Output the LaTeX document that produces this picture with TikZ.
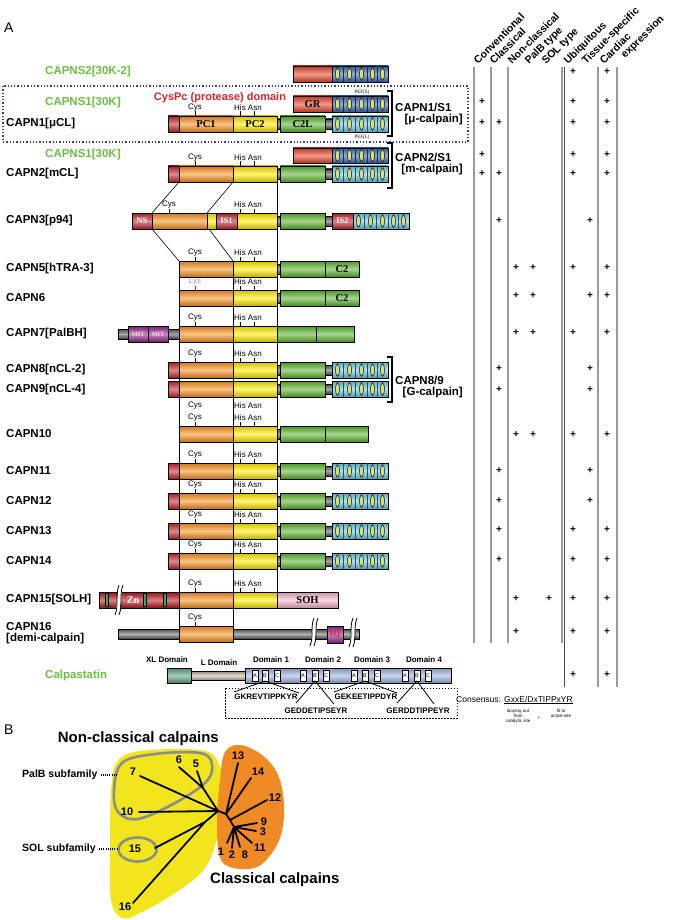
\documentclass[tikz,border=0pt]{standalone}
\usepackage{fontspec}
\setmainfont{Liberation Sans}
\newfontfamily\serifb{Liberation Serif}
\usetikzlibrary{calc}
\definecolor{cred}{HTML}{C1272D}
\definecolor{corange}{HTML}{F7931E}
\definecolor{cyellow}{HTML}{FFEC00}
\definecolor{cgreen}{HTML}{5DB52F}
\definecolor{ccyan}{HTML}{6CCDE8}
\definecolor{cblue}{HTML}{3A6DB5}
\definecolor{cgr}{HTML}{E8452C}
\definecolor{cpurple}{HTML}{93278F}
\definecolor{cpink}{HTML}{F7B5D0}
\definecolor{cdred}{HTML}{B3151B}
\definecolor{cgray}{HTML}{4D4D4D}
\definecolor{cteal}{HTML}{5FA585}
\definecolor{ctan}{HTML}{B8A68E}
\definecolor{cpale}{HTML}{9FB3E0}
\definecolor{lblgreen}{HTML}{6DBE45}
\definecolor{lblred}{HTML}{D7262B}
\definecolor{oval}{HTML}{D6E27A}
\definecolor{tyellow}{HTML}{F2E51E}
\definecolor{torange}{HTML}{EF8A25}
\definecolor{tgray}{HTML}{8C8C8C}
\definecolor{colgray}{HTML}{9A9A9A}
\definecolor{dotblue}{HTML}{2E3C9E}
\newcommand{\dbox}[5]{\draw[line width=0.7pt, top color=#5!82!black, bottom color=#5!75!black, middle color=#5!55!white] (#1,#3) rectangle (#2,#4);}
\newcommand{\lnk}[3]{\draw[line width=0.5pt, top color=cgray, bottom color=cgray!80!black, middle color=gray!70] (#1,#3-5) rectangle (#2,#3+5);}
\newcommand{\pefb}[4]{%
  \dbox{#1}{#1+56}{#2}{#3}{#4}
  \foreach \dd in {11,23.5,35,45.5}{\draw[line width=0.35pt, #4!40!black] (#1+\dd,#2) -- (#1+\dd,#3);}
  \foreach \oo in {5.5,17.5,29.5,40.5,50.5}{\draw[line width=0.5pt,fill=oval] (#1+\oo,{(#2+#3)/2}) ellipse (1.9 and 6.2);}
}
\newcommand{\classrow}[1]{%
  \dbox{168}{179}{#1}{#1+16}{cred}
  \dbox{179}{233}{#1}{#1+16}{corange}
  \dbox{233}{277}{#1}{#1+16}{cyellow}
  \lnk{277}{280}{#1+8}
  \dbox{280}{325}{#1}{#1+16}{cgreen}
  \lnk{325}{332}{#1+8}
  \pefb{332}{#1}{#1+16}{ccyan}
}
\newcommand{\cysl}[2]{\node[site] at (#1,#2-8.5) {Cys}; \draw[line width=0.5pt] (#1,#2-4.5) -- (#1,#2);}
\newcommand{\hisl}[1]{\node[site] at (248,#1-8.5) {His Asn}; \draw[line width=0.5pt] (240,#1-4.5) -- (240,#1) (254,#1-4.5) -- (254,#1);}
\newcommand{\brkmark}[3]{%
  \fill[white] (#1-3,#3) -- (#1+1,#2) -- (#1+5,#2) -- (#1+1,#3) -- cycle;
  \draw[line width=0.8pt] (#1-3,#3) .. controls (#1+1,#3-10) and (#1-3,#2+10) .. (#1+1,#2);
  \draw[line width=0.8pt] (#1+1,#3) .. controls (#1+5,#3-10) and (#1+1,#2+10) .. (#1+5,#2);
}
\begin{document}
\begin{tikzpicture}[x=1pt,y=-1pt,
 lbl/.style={font=\fontsize{11.5}{12}\selectfont\bfseries, inner sep=0, anchor=west},
 glbl/.style={lbl, text=lblgreen},
 dtxt/.style={font=\serifb\bfseries\fontsize{10.5}{10.5}\selectfont, inner sep=0},
 dsm/.style={font=\serifb\bfseries\fontsize{8.5}{8.5}\selectfont, inner sep=0, text=white},
 site/.style={font=\fontsize{8}{8}\selectfont, inner sep=0},
 pl/.style={font=\fontsize{10}{10}\selectfont\bfseries, inner sep=0},
 hdr/.style={font=\fontsize{10.5}{10.5}\selectfont\bfseries, rotate=45, anchor=base west, inner sep=0},
 brk/.style={line width=1.6pt},
 guide/.style={line width=0.6pt},
 tree/.style={line width=1.8pt, line cap=round},
 num/.style={font=\fontsize{11}{11}\selectfont\bfseries, inner sep=0},
 colline/.style={colgray, line width=1.8pt},
 dom/.style={font=\fontsize{8}{8}\selectfont\bfseries, inner sep=0},
 seq/.style={font=\fontsize{8}{8}\selectfont\bfseries, inner sep=0},
 tiny/.style={font=\fontsize{4.5}{5}\selectfont, inner sep=0}]
\useasboundingbox (0,0) rectangle (676,920);
\fill[white] (0,0) rectangle (676,920);

\node[font=\fontsize{14}{14}\selectfont, anchor=west, inner sep=0] (A) at (4,28) {A};
\node[font=\fontsize{14}{14}\selectfont, anchor=west, inner sep=0] (B) at (4,730) {B};

% table lines
\foreach \xx in {474,491,508,562} \draw[colline] (\xx,67) -- (\xx,643);
\foreach \xx in {598,617} \draw[colline] (\xx,67) -- (\xx,687);
\draw[line width=0.8pt, black!70] (564.5,67) -- (564.5,687);
\foreach \xx/\htxt in {478/Conventional,494/Classical,512/Non-classical,529/PalB type,546/SOL type,568/Ubiquitous,586/Tissue-specific,604/Cardiac}
  \node[hdr] at (\xx,65) {\htxt};
\node[hdr] at (625,59) {expression};
\foreach \xx/\yy in {573/72,607/72, 482/102,573/102,607/102, 482/123,499/123,573/123,607/123,
  482/155,573/155,607/155, 482/174,499/174,573/174,607/174, 499/221,590/221,
  516/268,533/268,573/268,607/268, 516/296,533/296,590/296,607/296,
  516/333,533/333,573/333,607/333, 499/369,590/369, 499/390,590/390,
  516/435,533/435,573/435,607/435, 499/471,590/471, 499/501,590/501,
  499/530,573/530,607/530, 499/560,573/560,607/560,
  516/599,549/599,573/599,607/599, 516/632,573/632,607/632, 573/675,607/675}
  \node[pl] at (\xx,\yy) {+};

% dotted box
\draw[dotted, line width=1.3pt, dotblue] (3,86) rectangle (468,142);

% left labels
\node[glbl] (ns2) at (45,72) {CAPNS2[30K-2]};
\node[glbl] (ns1a) at (45,103) {CAPNS1[30K]};
\node[lbl] (n1) at (6,124) {CAPN1[μCL]};
\node[glbl] (ns1b) at (45,155) {CAPNS1[30K]};
\node[lbl] (n2) at (6,174) {CAPN2[mCL]};
\node[lbl] (n3) at (6,221) {CAPN3[p94]};
\node[lbl] (n5) at (6,269) {CAPN5[hTRA-3]};
\node[lbl] (n6) at (6,298) {CAPN6};
\node[lbl] (n7) at (6,334) {CAPN7[PalBH]};
\node[lbl] (n8) at (6,370) {CAPN8[nCL-2]};
\node[lbl] (n9) at (6,390) {CAPN9[nCL-4]};
\node[lbl] (n10) at (6,434) {CAPN10};
\node[lbl] (n11) at (6,471) {CAPN11};
\node[lbl] (n12) at (6,501) {CAPN12};
\node[lbl] (n13) at (6,531) {CAPN13};
\node[lbl] (n14) at (6,561) {CAPN14};
\node[lbl] (n15) at (6,600) {CAPN15[SOLH]};
\node[lbl] (n16a) at (6,627) {CAPN16};
\node[lbl] (n16b) at (6,639) {[demi-calpain]};
\node[glbl] (cast) at (45,676) {Calpastatin};

\node[font=\fontsize{11}{11}\selectfont\bfseries, text=lblred, inner sep=0] (cyspc) at (220,98) {CysPc (protease) domain};

% brackets
\draw[brk] (387,91) -- (392,91) -- (392,136) -- (387,136);
\draw[brk] (387,143) -- (392,143) -- (392,188) -- (387,188);
\draw[brk] (387,357) -- (392,357) -- (392,402) -- (387,402);
\node[lbl] (b1) at (395,107) {CAPN1/S1};
\node[lbl, anchor=east] (b1b) at (463,120) {[μ-calpain]};
\node[lbl] (b2) at (395,157) {CAPN2/S1};
\node[lbl, anchor=east] (b2b) at (463,170) {[m-calpain]};
\node[lbl] (b3) at (395,380) {CAPN8/9};
\node[lbl, anchor=east] (b3b) at (463,393) {[G-calpain]};

% guide lines
\draw[guide] (277,182) -- (277,592);
\draw[guide] (179,261) -- (179,626);
\draw[guide] (233,261) -- (233,626);
\draw[guide] (179,182) -- (152,213) (233,182) -- (207,213) (152,229) -- (179,261) (209,229) -- (233,261);

% CAPNS2
\dbox{293}{332}{66}{82}{cgr}
\pefb{332}{66}{82}{cblue}
% CAPNS1
\dbox{293}{332}{96}{112}{cgr}
\node[dtxt] at (312.5,104) {GR};
\pefb{332}{96}{112}{cblue}
\node[tiny, font=\serifb\fontsize{5}{5}\selectfont] at (362,92) {PEF(S)};
% CAPN1
\classrow{116}
\node[dtxt] at (206,124) {PC1};
\node[dtxt] at (255,124) {PC2};
\node[dtxt] at (302.5,124) {C2L};
\node[tiny, font=\serifb\fontsize{5}{5}\selectfont] at (362,137) {PEF(L)};
\cysl{195}{116}\hisl{116}
% CAPNS1 b
\dbox{293}{332}{148}{163}{cgr}
\pefb{332}{148}{163}{cblue}
% CAPN2
\classrow{166}
\cysl{195}{166}\hisl{166}
% CAPN3
\dbox{132}{152}{213}{229}{cred}
\node[dsm] at (142,221) {NS};
\dbox{152}{207}{213}{229}{corange}
\dbox{207}{216}{213}{229}{cyellow}
\dbox{216}{237}{213}{229}{cred}
\node[dsm] at (226.5,221) {IS1};
\dbox{237}{277}{213}{229}{cyellow}
\lnk{277}{280}{221}
\dbox{280}{325}{213}{229}{cgreen}
\lnk{325}{332}{221}
\dbox{332}{353}{213}{229}{cred}
\node[dsm] at (342.5,221) {IS2};
\pefb{353}{213}{229}{ccyan}
\cysl{169}{213}\hisl{213}
% CAPN5
\dbox{179}{233}{261}{277}{corange}
\dbox{233}{277}{261}{277}{cyellow}
\lnk{277}{280}{269}
\dbox{280}{325}{261}{277}{cgreen}
\dbox{325}{359}{261}{277}{cgreen}
\node[dtxt] at (342,269) {C2};
\cysl{195}{261}\hisl{261}
% CAPN6
\dbox{179}{233}{290}{306}{corange}
\dbox{233}{277}{290}{306}{cyellow}
\lnk{277}{280}{298}
\dbox{280}{325}{290}{306}{cgreen}
\dbox{325}{359}{290}{306}{cgreen}
\node[dtxt] at (342,298) {C2};
\node[site, text=gray!80] at (195,281.5) {Lys};
\draw[line width=0.6pt, red] (195,285.5) -- (195,290);
\hisl{290}
% CAPN7
\draw[line width=0.5pt, top color=cgray, bottom color=cgray!80!black, middle color=gray!70] (118,329) rectangle (128,339);
\dbox{128}{148}{326}{342}{cpurple}
\dbox{148}{168}{326}{342}{cpurple}
\node[dsm, font=\serifb\bfseries\fontsize{6.5}{6.5}\selectfont, text=pink!60] at (138,334) {MIT};
\node[dsm, font=\serifb\bfseries\fontsize{6.5}{6.5}\selectfont, text=pink!60] at (158,334) {MIT};
\draw[line width=0.5pt, top color=cgray, bottom color=cgray!80!black, middle color=gray!70] (168,329) rectangle (179,339);
\dbox{179}{233}{326}{342}{corange}
\dbox{233}{277}{326}{342}{cyellow}
\dbox{277}{316}{326}{342}{cgreen}
\dbox{316}{354}{326}{342}{cgreen}
\cysl{195}{326}\hisl{326}
% CAPN8, 9
\classrow{362}
\cysl{195}{362}\hisl{362}
\classrow{381}
\node[site] at (195,406) {Cys};
\node[site] at (248,406) {His Asn};
% CAPN10
\dbox{179}{233}{426}{442}{corange}
\dbox{233}{277}{426}{442}{cyellow}
\lnk{277}{280}{434}
\dbox{280}{325}{426}{442}{cgreen}
\dbox{325}{368}{426}{442}{cgreen}
\cysl{195}{426}\hisl{426}
% CAPN11-14
\classrow{463}\cysl{195}{463}\hisl{463}
\classrow{493}\cysl{195}{493}\hisl{493}
\classrow{523}\cysl{195}{523}\hisl{523}
\classrow{553}\cysl{195}{553}\hisl{553}
% CAPN15
\dbox{99}{179}{592}{608}{cdred}
\foreach \bx in {107,145,165} \draw[line width=0.5pt, fill=green!60!black!80] (\bx-1.5,593.5) rectangle (\bx+1.5,606.5);
\node[dsm, font=\serifb\bfseries\fontsize{10}{10}\selectfont] at (133,600) {Zn};
\brkmark{118}{585}{615}
\dbox{179}{233}{592}{608}{corange}
\dbox{233}{277}{592}{608}{cyellow}
\dbox{277}{338}{592}{608}{cpink}
\node[dtxt] at (307.5,600) {SOH};
\cysl{195}{592}\hisl{592}
% CAPN16
\draw[line width=0.7pt, top color=cgray, bottom color=cgray!80!black, middle color=gray!60] (118,629) rectangle (359,639);
\dbox{179}{233}{626}{642}{corange}
\dbox{327}{343}{626}{643}{cpurple}
\node[dtxt, text=lblred, font=\serifb\bfseries\fontsize{9}{9}\selectfont] at (335,634.5) {IQ};
\brkmark{313}{618}{646}
\brkmark{352}{618}{647}
\cysl{195}{626}

% Calpastatin
\node[dom] at (167,660) {XL Domain};
\node[dom] at (219,663) {L Domain};
\node[dom] at (271,660) {Domain 1};
\node[dom] at (323,660) {Domain 2};
\node[dom] at (372,660) {Domain 3};
\node[dom] at (424,660) {Domain 4};
\dbox{167}{191}{668}{683}{cteal}
\draw[line width=0.7pt, top color=ctan!80!black, bottom color=ctan!80!black, middle color=ctan!40!white] (191,671) rectangle (245,680);
\dbox{245}{451}{668}{683}{cpale}
\foreach \sx/\sl in {255/A,265/B,277/C,303/A,315/B,326/C,354/A,365/B,377/C,405/A,417/B,428/C}{
  \draw[line width=0.5pt, fill=white] (\sx-3,670) rectangle (\sx+3,681);
  \node[font=\fontsize{5.5}{5.5}\selectfont, inner sep=0] at (\sx,675.5) {\sl};
}
\draw[line width=0.5pt, dash pattern=on 1.5pt off 1.5pt] (225,688) rectangle (457,718);
\node[seq] (s1) at (266,697) {GKREVTIPPKYR};
\node[seq] (s2) at (316,711) {GEDDETIPSEYR};
\node[seq] (s3) at (366,697) {GEKEETIPPDYR};
\node[seq] (s4) at (418,711) {GERDDTIPPEYR};
\draw[line width=0.8pt] (234,692) -- (265,681) -- (299,693);
\draw[line width=0.8pt] (296,703) -- (315,681) -- (334,704);
\draw[line width=0.8pt] (334,692) -- (365,681) -- (397,693);
\draw[line width=0.8pt] (397,703) -- (417,681) -- (434,704);
\node[font=\fontsize{8.5}{8.5}\selectfont, anchor=west, inner sep=0] (cons) at (456,700) {Consensus: \underline{GxxE/Dx}\underline{TIPPxYR}};
\node[tiny, align=center, anchor=north] at (518,709) {looping out\\from\\catalytic site};
\node[tiny] at (539,718) {+};
\node[tiny, align=center, anchor=north] at (561,709) {fit to\\active-site};

% Panel B
\fill[tyellow] plot[smooth cycle, tension=0.6] coordinates {(111,792) (117,762) (140,751) (200,750) (218,762) (222,790) (219,830) (205,868) (175,893) (140,913) (122,918) (111,900) (110,850)};
\fill[torange] plot[smooth cycle, tension=0.6] coordinates {(225,752) (240,745) (262,755) (278,775) (284,805) (280,838) (262,864) (240,869) (221,860) (217,825) (220,780)};
\draw[tgray, line width=2.6pt] plot[smooth cycle, tension=0.6] coordinates {(114,790) (122,763) (155,754) (200,753) (212,764) (206,782) (175,803) (138,819) (118,812)};
\draw[tgray, line width=2.6pt] (137.5,849.5) ellipse (19 and 12);
\coordinate (H) at (218,811);
\coordinate (J56) at (203,788);
\coordinate (J1516) at (205,822);
\coordinate (N1) at (226,814);
\coordinate (N2) at (230,820);
\coordinate (C2) at (234,827);
\draw[tree] (140,776) -- (H) (139,812) -- (H) (H) -- (J56) (179,767) -- (J56) (197,771) -- (J56)
  (H) -- (J1516) (155,848) -- (J1516) (133,903) -- (J1516)
  (H) -- (N1) (N1) -- (238,763) (N1) -- (251,778) (N1) -- (N2) (N2) -- (267,800) (N2) -- (C2)
  (C2) -- (257,823) (C2) -- (256,831) (C2) -- (252,843) (C2) -- (227,843) (C2) -- (232,848) (C2) -- (240,847);
\foreach \lx/\ly/\lt in {133/772/7,127/812/10,179/760/6,196/764/5,135/849/15,125/907/16,238/756/13,258/772/14,275/798/12,264/822/9,263/832/3,260/848/11,221/852/1,232/855/2,245/855/8}
  \node[num] at (\lx,\ly) {\lt};
\node[font=\fontsize{15}{15}\selectfont\bfseries, anchor=east, inner sep=0] (ncl) at (219,739) {Non-classical calpains};
\node[font=\fontsize{15}{15}\selectfont\bfseries, anchor=west, inner sep=0] (cl) at (210,880) {Classical calpains};
\node[font=\fontsize{10.5}{10.5}\selectfont\bfseries, anchor=west, inner sep=0] (palb) at (22,775) {PalB subfamily};
\node[font=\fontsize{10.5}{10.5}\selectfont\bfseries, anchor=west, inner sep=0] (sol) at (22,849) {SOL subfamily};
\draw[line width=1.6pt, dash pattern=on 1pt off 1.2pt] (palb.east) ++(3,0) -- (118,775);
\draw[line width=1.6pt, dash pattern=on 1pt off 1.2pt] (sol.east) ++(3,0) -- (118,849);
\end{tikzpicture}
\end{document}
